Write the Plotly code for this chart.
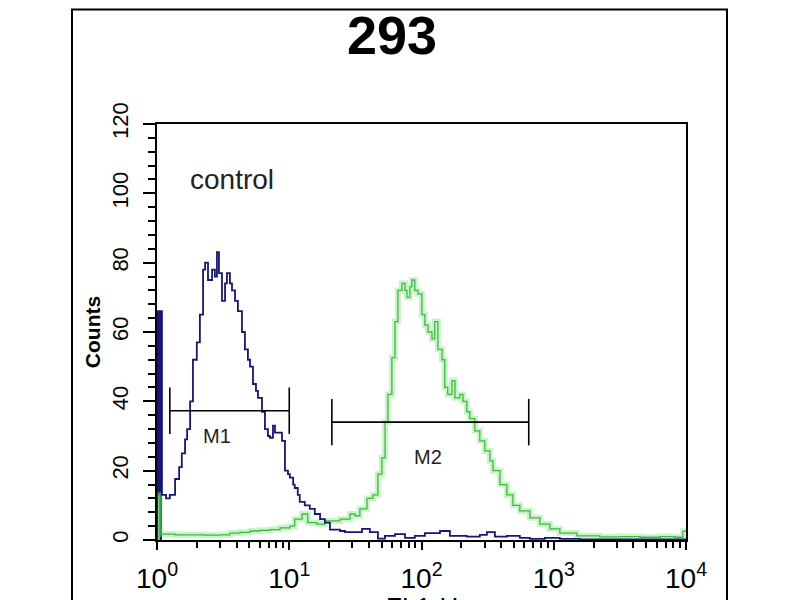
import math
import plotly.graph_objects as go

# FL1-H channel positions and counts
blue_fl1 = [1.0, 1.0, 1.09, 1.17, 1.25, 1.37, 1.47, 1.54, 1.63, 1.69, 1.78, 1.87, 2.0, 2.11,
            2.23, 2.31, 2.43, 2.61, 2.74, 2.84, 2.94, 3.10, 3.27, 3.38, 3.56, 3.69, 3.89,
            4.09, 4.39, 4.62, 4.87, 5.05, 5.32, 5.60, 5.80, 6.22, 6.55, 6.90, 7.14, 7.53,
            7.80, 8.22, 8.81, 9.28, 9.78, 10.1, 10.7, 11.0, 11.6, 12.0, 13.1, 14.3, 15.6,
            17.1, 18.6, 20.3, 22.1, 24.2, 26.4, 31.4, 35.5, 40.7, 46.8, 52.9, 63, 75, 89,
            106, 138, 164, 220, 276, 312, 359, 442, 554, 660, 857, 1112, 1574, 3162, 10000]
blue_counts = [0, 66, 13, 12, 13, 17.6, 21, 25, 29, 32, 40, 52, 57, 65,
               78, 80, 75, 78, 76, 83, 77, 69, 74, 77, 74, 72, 69,
               66, 60, 55, 52, 50, 45, 43, 41, 37, 32, 30, 29.5, 33,
               31, 31, 28.6, 20, 19, 18, 16, 15, 13, 11, 10, 9, 7.5,
               6, 5, 3, 3, 2.6, 2.3, 2.3, 3.2, 2.3, 0.4, 1.2, 1.7, 0.6, 1.2,
               2, 2.6, 1.2, 1, 1.5, 2.3, 1, 1.2, 0.6, 0.3, 0.6, 0.3, 0.2, 0.2, 0.2]

green_fl1 = [1.0, 1.0, 1.05, 1.37, 1.78, 2.31, 2.99, 3.56, 4.24, 5.05, 6.0, 7.14, 8.51, 10.1,
             11.0, 12.5, 13.8, 16.2, 18.6, 21.4, 24.2, 28.8, 31.4, 34.2, 38.7, 42.9, 46.8,
             50.2, 53, 55.7, 59.7, 63, 66.4, 71.1, 75, 77.6, 81.7, 84.6, 89, 94, 100.7, 106,
             112, 120, 126, 133, 143, 150, 158, 170, 179, 195, 206, 220, 232, 253, 276, 301,
             329, 347, 392, 442, 491, 554, 660, 785, 935, 1112, 1496, 2230, 3162, 4478,
             6339, 8227, 9460, 10000]
green_counts = [0, 13, 1.7, 1.5, 1.5, 1.4, 1.5, 2.0, 2.2, 2.6, 2.8, 3, 3.5, 4.0,
                6, 7.5, 5, 4.6, 5.5, 5.5, 6, 7.5, 7, 9, 12, 13, 19,
                23.7, 34, 42, 52.6, 63, 72, 74, 72, 70, 73, 75, 72, 71, 65, 62,
                60, 58, 63, 55, 52, 44, 42, 46, 41, 42, 40, 37, 35, 31.5, 28.6, 25.7,
                22.8, 20, 16, 13, 10, 8.4, 6.4, 4.6, 3.2, 2, 1.2, 0.9, 1, 0.8,
                1, 0.8, 2.5, 3]

# marker gates: name, start, end, level, label position, label level
gates = [("M1", 1.25, 10.0, 37.3, 2.85, 30.0), ("M2", 21.0, 647.0, 34.0, 112.0, 24.0)]

x_ticks = [1, 10, 100, 1000, 10000]
x_tick_text = ["10<sup>0</sup>", "10<sup>1</sup>", "10<sup>2</sup>", "10<sup>3</sup>", "10<sup>4</sup>"]
x_minor = [m * d for d in [1, 10, 100, 1000] for m in range(2, 10)]

BLUE = "#16167a"
GREEN = "#3cbc3c"

fig = go.Figure()

# first channel of each histogram is drawn solid in the scan
fig.add_trace(go.Scatter(x=blue_fl1[1:3], y=[blue_counts[1]] * 2, mode="lines",
                         line=dict(width=0, shape="hv"), fill="tozeroy",
                         fillcolor=BLUE, hoverinfo="skip", showlegend=False))
fig.add_trace(go.Scatter(x=green_fl1[1:3], y=[green_counts[1]] * 2, mode="lines",
                         line=dict(width=0, shape="hv"), fill="tozeroy",
                         fillcolor="rgba(120,220,120,0.8)", hoverinfo="skip", showlegend=False))

# soft halo on the green trace, like the scan
fig.add_trace(go.Scatter(x=green_fl1, y=green_counts, mode="lines", line_shape="hv",
                         line=dict(color="rgba(140,228,140,0.45)", width=6),
                         hoverinfo="skip", showlegend=False))
fig.add_trace(go.Scatter(x=green_fl1, y=green_counts, mode="lines", line_shape="hv",
                         line=dict(color=GREEN, width=1.3), name="sample", showlegend=False))
fig.add_trace(go.Scatter(x=blue_fl1, y=blue_counts, mode="lines", line_shape="hv",
                         line=dict(color=BLUE, width=1.8), name="control", showlegend=False))

for name, x0, x1, lvl, lx, ly in gates:
    fig.add_trace(go.Scatter(x=[x0, x1], y=[lvl, lvl], mode="lines",
                             line=dict(color="black", width=1.6), showlegend=False))
    for xe in (x0, x1):
        fig.add_trace(go.Scatter(x=[xe, xe], y=[lvl - 6.7, lvl + 6.7], mode="lines",
                                 line=dict(color="black", width=1.6), showlegend=False))
    fig.add_annotation(x=math.log10(lx), y=ly, xref="x", yref="y", text=name,
                       showarrow=False, font=dict(size=20, color="#222"))

fig.add_annotation(x=math.log10(3.7), y=104, xref="x", yref="y", text="control",
                   showarrow=False, font=dict(size=28, color="#222"))

fig.add_annotation(x=0.444, y=1.214, xref="paper", yref="paper", yanchor="middle",
                   text="<b>293</b>", showarrow=False, font=dict(size=54, color="black"))

fig.add_annotation(x=0.5, y=-0.12, xref="paper", yref="paper", yanchor="top",
                   text="FL1-H", showarrow=False, font=dict(size=26, color="black"))

# outer frame of the panel (top edge kept just inside the figure)
fig.add_shape(type="rect", xref="paper", yref="paper", x0=-0.1607, x1=1.0775,
              y0=-0.3, y1=1.275, line=dict(color="black", width=2))

fig.update_xaxes(type="log", range=[0, 4], tickvals=x_ticks, ticktext=x_tick_text,
                 ticks="outside", ticklen=8, tickwidth=2, tickcolor="black",
                 minor=dict(tickvals=x_minor, ticks="outside", ticklen=6, tickwidth=2,
                            tickcolor="black"),
                 showline=True, linecolor="black", linewidth=2, mirror=True,
                 showgrid=False, zeroline=False, automargin=False, ticklabelstandoff=4,
                 tickfont=dict(size=28, color="black",
                               family="Liberation Sans Narrow, Liberation Sans, sans-serif"))
fig.update_yaxes(range=[0, 120], dtick=20, tickangle=-90,
                 ticks="outside", ticklen=12, tickwidth=2, tickcolor="black",
                 minor=dict(dtick=4, ticks="outside", ticklen=7, tickwidth=2,
                            tickcolor="black"),
                 showline=True, linecolor="black", linewidth=2, mirror=True,
                 showgrid=False, zeroline=False, automargin=False, ticklabelstandoff=6,
                 tickfont=dict(size=22, color="black",
                               family="Liberation Sans Narrow, Liberation Sans, sans-serif"),
                 title=dict(text="<b>Counts</b>", font=dict(size=21, color="black"),
                            standoff=2))

# the page adds an 8px body margin, so the plot box is placed 8px up-left
fig.update_layout(width=800, height=600,
                  margin=dict(l=149, r=122, t=116, b=68),
                  paper_bgcolor="white", plot_bgcolor="white",
                  font=dict(family="Liberation Sans, Arial, sans-serif"))

fig.write_html("out.html")
